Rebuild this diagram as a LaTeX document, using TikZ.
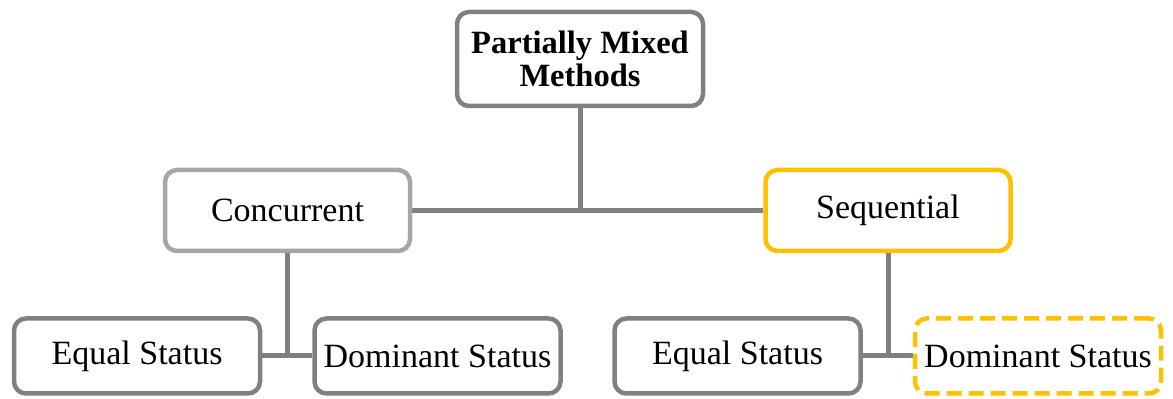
\documentclass[tikz,border=0pt]{standalone}
\usepackage{fontspec}
\setmainfont{Liberation Serif}
\usetikzlibrary{backgrounds}
\definecolor{linegray}{HTML}{808080}
\definecolor{lightgray}{HTML}{A6A6A6}
\definecolor{gold}{HTML}{FFC000}
\begin{document}
\begin{tikzpicture}[x=1pt,y=1pt,
  box/.style={draw=linegray, line width=4.5pt, rounded corners=12pt, fill=white,
    align=center, inner sep=0pt, font=\fontsize{34}{35}\selectfont},
  topbox/.style={box, minimum width=246pt, minimum height=94pt,
    font=\fontsize{32.5}{33}\selectfont\bfseries},
  midbox/.style={box, minimum width=245pt, minimum height=81pt},
  leafbox/.style={box, minimum width=246pt, minimum height=75pt},
  conn/.style={draw=linegray, line width=5pt}]
\useasboundingbox (0,0) rectangle (1173,399);

% root
\node[topbox] (root) at (580,340) {Partially Mixed\\Methods};

% second level
\node[midbox, draw=lightgray] (conc) at (287.5,188.5) {Concurrent};
\node[midbox, draw=gold] (seq) at (888,188.5) {Sequential};

% leaves
\node[leafbox] (eqL) at (137,43) {Equal Status};
\node[leafbox] (domL) at (437.5,43) {Dominant Status};
\node[leafbox] (eqR) at (737.5,43) {Equal Status};
\node[leafbox, draw=gold, dash pattern=on 15pt off 7pt] (domR) at (1038,43) {Dominant Status};

% connectors
\coordinate (jTop) at (root.south |- conc.east);
\coordinate (jL) at (conc.south |- eqL.east);
\coordinate (jR) at (seq.south |- eqR.east);
\begin{scope}[on background layer]
  \draw[conn] (root.south) -- (jTop);
  \draw[conn] (conc.east) -- (seq.west);
  \draw[conn] (conc.south) -- (jL);
  \draw[conn] (eqL.east) -- (domL.west);
  \draw[conn] (seq.south) -- (jR);
  \draw[conn] (eqR.east) -- (domR.west);
\end{scope}
\end{tikzpicture}
\end{document}
